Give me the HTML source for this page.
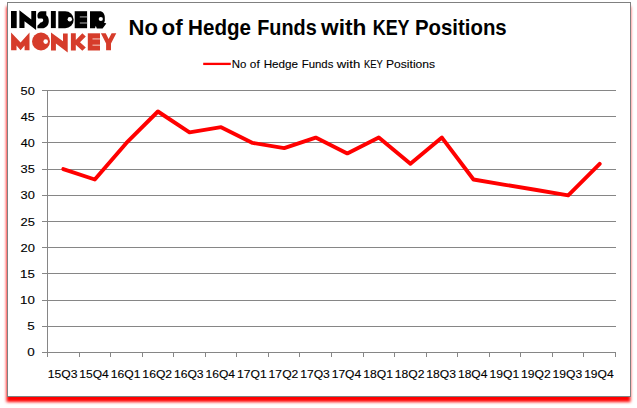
<!DOCTYPE html>
<html><head><meta charset="utf-8">
<style>
html,body{margin:0;padding:0;background:#fff;}
body{width:637px;height:408px;overflow:hidden;position:relative;}
svg{position:absolute;left:0;top:0;}
text{font-family:"Liberation Sans", sans-serif;}
.ax{font-size:11.5px;fill:#000;stroke:#000;stroke-width:0.12px;}
</style></head><body>
<svg width="637" height="408" viewBox="0 0 637 408">
<defs>
<filter id="sh" x="-10%" y="-10%" width="120%" height="120%">
<feGaussianBlur stdDeviation="1.8"/>
</filter>
</defs>
<rect x="6.5" y="6.5" width="624" height="395.5" fill="#ff0000" filter="url(#sh)"/>
<rect x="7.5" y="2.5" width="623" height="394" fill="#fff" stroke="#808080" stroke-width="1"/>

<g fill="#000">
<path d="M11 11 H16.7 V28.1 H11 Z"/>
<path d="M19.4 10.3 L31.3 19.6 V11 H36.1 V30 L24.5 21.3 V28.1 H19.4 Z"/>
<path d="M41.6 11.2 H46.3 V15.2 C48 16.2 48.8 18.3 48.8 21 C48.8 25.3 46 28.3 42 28.3 H37.4 V25.8 L40.6 22.4 C42.2 22.2 43.2 21.3 43.2 20.2 C43.2 19 42.3 18.6 41.2 18.6 H38.2 C37.6 17.8 37.4 16.8 37.4 15.6 C37.4 13 39.2 11.2 41.6 11.2 Z"/>
<path d="M50.9 11 H55.8 V28.1 H50.9 Z"/>
<path d="M58.3 11.2 H65.2 A8.5 8.5 0 0 1 65.2 28.2 H58.3 Z"/>
<path d="M74.7 11.2 H87.1 V28.2 H74.7 Z"/>
<path d="M90 11.2 H99.8 C102.8 11.2 104.8 13.8 104.8 17.3 V21.2 L103.9 22.4 L106.3 23.4 L102.6 28.5 H96.8 L95.8 25.8 L95 28.2 H90 Z"/>
</g>
<g fill="#fff">
<circle cx="69.8" cy="19.3" r="2.2"/>
<circle cx="100.8" cy="19" r="2.1"/>
</g>
<g stroke="#8a8a8a" stroke-width="1.3">
<line x1="79.8" y1="16.9" x2="87.1" y2="16.9"/>
<line x1="79.8" y1="23" x2="87.1" y2="23"/>
</g>
<g fill="#d63c2b">
<path d="M11.1 32.4 L20.6 42.6 L29.5 32.4 V50.3 H24.6 V45.6 L20.6 50.3 L16.5 45.6 V50.3 H11.1 Z"/>
<circle cx="41" cy="41.5" r="9"/>
<path d="M51 32.4 L63 41.2 V33.4 H67.7 V52.6 L55.9 43.5 V50.4 H51 Z"/>
<path d="M70.9 33.3 H75.8 V40 L82.3 33.3 L85.8 36.6 L80 42.3 L85.8 47.6 L82.3 50.8 L75.8 44.8 V50.5 H70.9 Z"/>
<path d="M87.8 33.3 H100 V50.5 H87.8 Z"/>
<path d="M100.9 33.3 H105.7 L108.6 39 L111.6 33.3 H116.3 L111 43.4 V50.2 H106.1 V43.4 Z"/>
</g>
<circle cx="45.7" cy="41.6" r="2.3" fill="#fff"/>
<g stroke="#eeaaa0" stroke-width="1.3">
<line x1="92.5" y1="38.9" x2="100" y2="38.9"/>
<line x1="92.5" y1="45.2" x2="100" y2="45.2"/>
</g>

<text x="128.47" y="35" font-weight="bold" font-size="21.3" textLength="29.38" lengthAdjust="spacingAndGlyphs" fill="#000">No</text>
<text x="161.5" y="35" font-weight="bold" font-size="21.3" textLength="21.17" lengthAdjust="spacingAndGlyphs" fill="#000">of</text>
<text x="188.06" y="35" font-weight="bold" font-size="21.3" textLength="62.99" lengthAdjust="spacingAndGlyphs" fill="#000">Hedge</text>
<text x="257.21" y="35" font-weight="bold" font-size="21.3" textLength="59.47" lengthAdjust="spacingAndGlyphs" fill="#000">Funds</text>
<text x="321.0" y="35" font-weight="bold" font-size="21.3" textLength="45.35" lengthAdjust="spacingAndGlyphs" fill="#000">with</text>
<text x="372.73" y="35" font-weight="bold" font-size="21.3" textLength="36.86" lengthAdjust="spacingAndGlyphs" fill="#000">KEY</text>
<text x="414.97" y="35" font-weight="bold" font-size="21.3" textLength="91.75" lengthAdjust="spacingAndGlyphs" fill="#000">Positions</text>
<line x1="203.2" y1="63.9" x2="230.8" y2="63.9" stroke="#ff0000" stroke-width="2.3"/>
<g stroke="#000" stroke-width="0.1">
<text x="231.79" y="67.6" font-size="11" textLength="14.61" lengthAdjust="spacingAndGlyphs" fill="#000">No</text>
<text x="249.83" y="67.6" font-size="11" textLength="9.86" lengthAdjust="spacingAndGlyphs" fill="#000">of</text>
<text x="263.66" y="67.6" font-size="11" textLength="34.48" lengthAdjust="spacingAndGlyphs" fill="#000">Hedge</text>
<text x="301.79" y="67.6" font-size="11" textLength="31.6" lengthAdjust="spacingAndGlyphs" fill="#000">Funds</text>
<text x="336.8" y="67.6" font-size="11" textLength="23.4" lengthAdjust="spacingAndGlyphs" fill="#000">with</text>
<text x="364.05" y="67.6" font-size="11" textLength="18.75" lengthAdjust="spacingAndGlyphs" fill="#000">KEY</text>
<text x="386.03" y="67.6" font-size="11" textLength="49.06" lengthAdjust="spacingAndGlyphs" fill="#000">Positions</text>
</g>
<line x1="47" y1="326.5" x2="616" y2="326.5" stroke="#868686"/>
<line x1="47" y1="300.5" x2="616" y2="300.5" stroke="#868686"/>
<line x1="47" y1="273.5" x2="616" y2="273.5" stroke="#868686"/>
<line x1="47" y1="247.5" x2="616" y2="247.5" stroke="#868686"/>
<line x1="47" y1="221.5" x2="616" y2="221.5" stroke="#868686"/>
<line x1="47" y1="195.5" x2="616" y2="195.5" stroke="#868686"/>
<line x1="47" y1="169.5" x2="616" y2="169.5" stroke="#868686"/>
<line x1="47" y1="142.5" x2="616" y2="142.5" stroke="#868686"/>
<line x1="47" y1="116.5" x2="616" y2="116.5" stroke="#868686"/>
<line x1="47" y1="90.5" x2="616" y2="90.5" stroke="#868686"/>
<line x1="42" y1="352.5" x2="47" y2="352.5" stroke="#868686"/>
<text x="27.36" y="356" class="ax" textLength="7.49" lengthAdjust="spacingAndGlyphs">0</text>
<line x1="42" y1="326.5" x2="47" y2="326.5" stroke="#868686"/>
<text x="27.36" y="330" class="ax" textLength="7.49" lengthAdjust="spacingAndGlyphs">5</text>
<line x1="42" y1="300.5" x2="47" y2="300.5" stroke="#868686"/>
<text x="20.11" y="304" class="ax" textLength="14.76" lengthAdjust="spacingAndGlyphs">10</text>
<line x1="42" y1="273.5" x2="47" y2="273.5" stroke="#868686"/>
<text x="20.11" y="278" class="ax" textLength="14.76" lengthAdjust="spacingAndGlyphs">15</text>
<line x1="42" y1="247.5" x2="47" y2="247.5" stroke="#868686"/>
<text x="20.45" y="252" class="ax" textLength="14.4" lengthAdjust="spacingAndGlyphs">20</text>
<line x1="42" y1="221.5" x2="47" y2="221.5" stroke="#868686"/>
<text x="20.45" y="226" class="ax" textLength="14.4" lengthAdjust="spacingAndGlyphs">25</text>
<line x1="42" y1="195.5" x2="47" y2="195.5" stroke="#868686"/>
<text x="20.59" y="199" class="ax" textLength="14.26" lengthAdjust="spacingAndGlyphs">30</text>
<line x1="42" y1="169.5" x2="47" y2="169.5" stroke="#868686"/>
<text x="20.59" y="173" class="ax" textLength="14.26" lengthAdjust="spacingAndGlyphs">35</text>
<line x1="42" y1="142.5" x2="47" y2="142.5" stroke="#868686"/>
<text x="20.78" y="147" class="ax" textLength="14.05" lengthAdjust="spacingAndGlyphs">40</text>
<line x1="42" y1="116.5" x2="47" y2="116.5" stroke="#868686"/>
<text x="20.78" y="121" class="ax" textLength="14.05" lengthAdjust="spacingAndGlyphs">45</text>
<line x1="42" y1="90.5" x2="47" y2="90.5" stroke="#868686"/>
<text x="20.59" y="95" class="ax" textLength="14.26" lengthAdjust="spacingAndGlyphs">50</text>
<line x1="47.5" y1="90" x2="47.5" y2="353" stroke="#868686"/>
<line x1="42" y1="352.5" x2="616" y2="352.5" stroke="#868686"/>
<line x1="47.5" y1="352" x2="47.5" y2="357" stroke="#868686"/>
<line x1="79.5" y1="352" x2="79.5" y2="357" stroke="#868686"/>
<line x1="110.5" y1="352" x2="110.5" y2="357" stroke="#868686"/>
<line x1="142.5" y1="352" x2="142.5" y2="357" stroke="#868686"/>
<line x1="173.5" y1="352" x2="173.5" y2="357" stroke="#868686"/>
<line x1="205.5" y1="352" x2="205.5" y2="357" stroke="#868686"/>
<line x1="236.5" y1="352" x2="236.5" y2="357" stroke="#868686"/>
<line x1="268.5" y1="352" x2="268.5" y2="357" stroke="#868686"/>
<line x1="299.5" y1="352" x2="299.5" y2="357" stroke="#868686"/>
<line x1="331.5" y1="352" x2="331.5" y2="357" stroke="#868686"/>
<line x1="363.5" y1="352" x2="363.5" y2="357" stroke="#868686"/>
<line x1="394.5" y1="352" x2="394.5" y2="357" stroke="#868686"/>
<line x1="426.5" y1="352" x2="426.5" y2="357" stroke="#868686"/>
<line x1="457.5" y1="352" x2="457.5" y2="357" stroke="#868686"/>
<line x1="489.5" y1="352" x2="489.5" y2="357" stroke="#868686"/>
<line x1="520.5" y1="352" x2="520.5" y2="357" stroke="#868686"/>
<line x1="552.5" y1="352" x2="552.5" y2="357" stroke="#868686"/>
<line x1="583.5" y1="352" x2="583.5" y2="357" stroke="#868686"/>
<line x1="615.5" y1="352" x2="615.5" y2="357" stroke="#868686"/>
<text x="47.72" y="378" class="ax" textLength="29.67" lengthAdjust="spacingAndGlyphs">15Q3</text>
<text x="79.28" y="378" class="ax" textLength="29.48" lengthAdjust="spacingAndGlyphs">15Q4</text>
<text x="110.83" y="378" class="ax" textLength="29.74" lengthAdjust="spacingAndGlyphs">16Q1</text>
<text x="142.38" y="378" class="ax" textLength="29.74" lengthAdjust="spacingAndGlyphs">16Q2</text>
<text x="173.94" y="378" class="ax" textLength="29.67" lengthAdjust="spacingAndGlyphs">16Q3</text>
<text x="205.5" y="378" class="ax" textLength="29.48" lengthAdjust="spacingAndGlyphs">16Q4</text>
<text x="237.05" y="378" class="ax" textLength="29.74" lengthAdjust="spacingAndGlyphs">17Q1</text>
<text x="268.61" y="378" class="ax" textLength="29.74" lengthAdjust="spacingAndGlyphs">17Q2</text>
<text x="300.17" y="378" class="ax" textLength="29.67" lengthAdjust="spacingAndGlyphs">17Q3</text>
<text x="331.73" y="378" class="ax" textLength="29.48" lengthAdjust="spacingAndGlyphs">17Q4</text>
<text x="363.28" y="378" class="ax" textLength="29.74" lengthAdjust="spacingAndGlyphs">18Q1</text>
<text x="394.83" y="378" class="ax" textLength="29.74" lengthAdjust="spacingAndGlyphs">18Q2</text>
<text x="426.39" y="378" class="ax" textLength="29.67" lengthAdjust="spacingAndGlyphs">18Q3</text>
<text x="457.95" y="378" class="ax" textLength="29.48" lengthAdjust="spacingAndGlyphs">18Q4</text>
<text x="489.5" y="378" class="ax" textLength="29.74" lengthAdjust="spacingAndGlyphs">19Q1</text>
<text x="521.06" y="378" class="ax" textLength="29.74" lengthAdjust="spacingAndGlyphs">19Q2</text>
<text x="552.61" y="378" class="ax" textLength="29.67" lengthAdjust="spacingAndGlyphs">19Q3</text>
<text x="584.18" y="378" class="ax" textLength="29.48" lengthAdjust="spacingAndGlyphs">19Q4</text>
<polyline points="63.3,169.1 94.8,179.5 126.4,142.9 157.9,111.5 189.5,132.4 221.1,127.2 252.6,142.9 284.2,148.1 315.7,137.6 347.3,153.4 378.8,137.6 410.4,163.8 441.9,137.6 473.5,179.5 505.1,184.8 536.6,190.0 568.2,195.3 599.7,163.8" fill="none" stroke="#ff0000" stroke-width="3.9" stroke-linejoin="round" stroke-linecap="round"/>
</svg>
</body></html>
